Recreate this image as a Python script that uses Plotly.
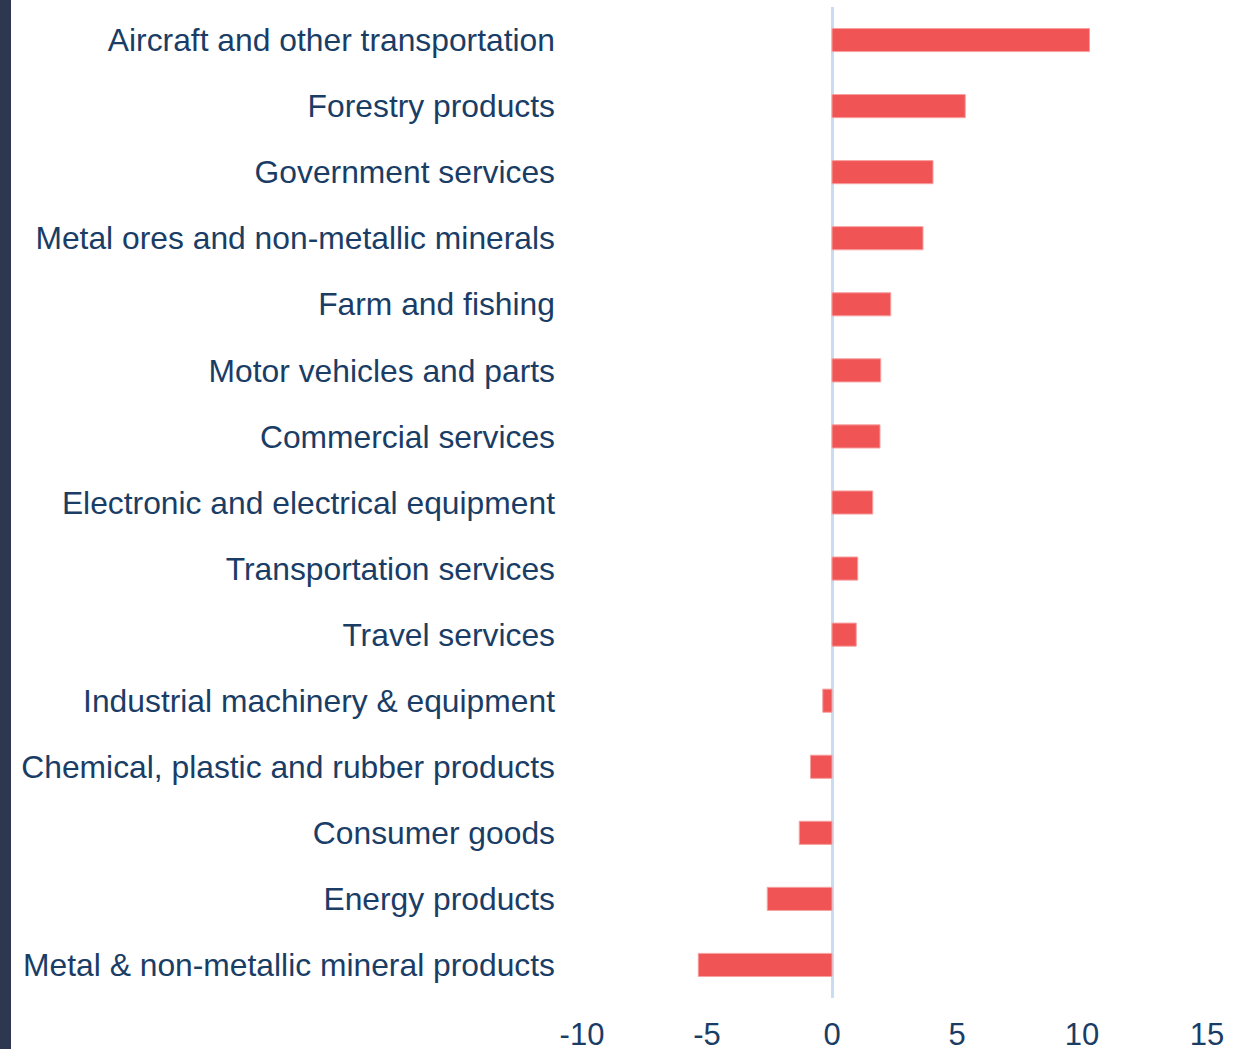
import plotly.graph_objects as go

categories = [
    "Aircraft and other transportation",
    "Forestry products",
    "Government services",
    "Metal ores and non-metallic minerals",
    "Farm and fishing",
    "Motor vehicles and parts",
    "Commercial services",
    "Electronic and electrical equipment",
    "Transportation services",
    "Travel services",
    "Industrial machinery & equipment",
    "Chemical, plastic and rubber products",
    "Consumer goods",
    "Energy products",
    "Metal & non-metallic mineral products",
]
values = [10.3, 5.33, 4.04, 3.64, 2.35, 1.95, 1.92, 1.63, 1.03, 0.97,
          -0.37, -0.86, -1.31, -2.59, -5.35]
x_tickvals = [-10, -5, 0, 5, 10, 15]

W, H = 1248, 1049
L, R, T, B = 582, 41, 7, 51
pw, ph = W - L - R, H - T - B

text_color = "#1a3d66"
font_family = "Liberation Sans, Arial, sans-serif"

fig = go.Figure(go.Bar(
    x=values,
    y=categories,
    orientation="h",
    width=0.35,
    marker=dict(color="#f05454", line=dict(color="#f7a0a0", width=1)),
    hoverinfo="x+y",
))

fig.update_layout(
    width=W, height=H,
    margin=dict(l=L, r=R, t=T, b=B, autoexpand=False),
    paper_bgcolor="white",
    plot_bgcolor="white",
    showlegend=False,
    font=dict(family=font_family, color=text_color, size=31),
    xaxis=dict(
        range=[-10, 15],
        tickvals=x_tickvals,
        ticktext=[str(v) for v in x_tickvals],
        showgrid=False,
        zeroline=True,
        zerolinecolor="#c8ddf4",
        zerolinewidth=2.5,
        showline=False,
        ticks="",
        ticklabelstandoff=15,
        tickfont=dict(size=31, color=text_color, family=font_family),
        automargin=False,
        fixedrange=True,
    ),
    yaxis=dict(
        autorange="reversed",
        showgrid=False,
        zeroline=False,
        showline=False,
        ticks="",
        ticklabelstandoff=26,
        tickfont=dict(size=31.8, color=text_color, family=font_family),
        automargin=False,
        fixedrange=True,
    ),
    shapes=[dict(
        type="rect",
        xref="paper", yref="paper",
        x0=-L / pw, x1=(11 - L) / pw,
        y0=-B / ph - 0.01, y1=1 + T / ph + 0.01,
        fillcolor="#2d3750",
        line=dict(width=0),
        layer="above",
    )],
)

fig.write_html("out.html", config={"displayModeBar": False})
